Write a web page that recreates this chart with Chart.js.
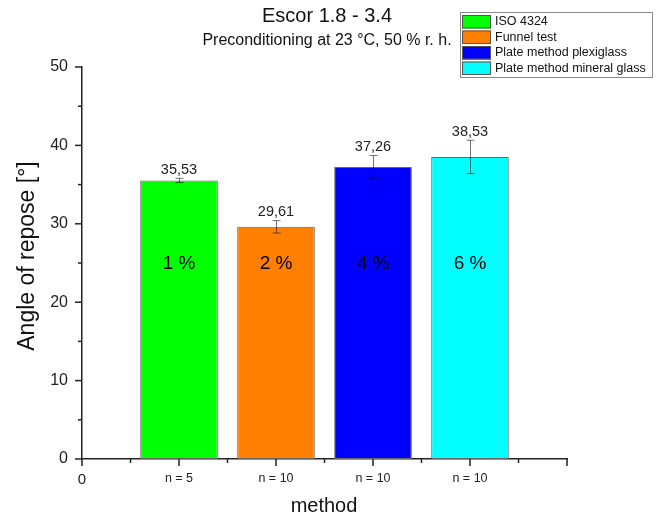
<!DOCTYPE html>
<html>
<head>
<meta charset="utf-8">
<title>Escor 1.8 - 3.4 angle of repose</title>
<script src="https://cdn.jsdelivr.net/npm/chart.js@4.4.0/dist/chart.umd.min.js"></script>
<style>
    html, body { margin: 0; padding: 0; background: #fff; }
    #wrap { width: 659px; height: 518px; position: relative; }
</style>
</head>
<body>
<div id="wrap"><canvas id="reposeChart"></canvas></div>
<script>
// Data
const methods = ['ISO 4324', 'Funnel test', 'Plate method plexiglass', 'Plate method mineral glass'];
const methodPositions = [1, 2, 3, 4];
const angles = [35.53, 29.61, 37.26, 38.53];
const errors = [0.27, 0.79, 1.45, 2.13];
const sampleSizes = ['n = 5', 'n = 10', 'n = 10', 'n = 10'];
const shares = ['1 %', '2 %', '4 %', '6 %'];
const barColors = ['#00ff00', '#ff8000', '#0000ff', '#00ffff'];
const yTicks = [0, 10, 20, 30, 40, 50];

const FONT = 'Arial, "Liberation Sans", sans-serif';
const AXIS_COLOR = '#222';

function formatValue(v) {
    return v.toFixed(2).replace('.', ',');
}

// titles, axis titles, minor/major ticks, error bars, labels and legend
const decorations = {
    id: 'decorations',
    afterDatasetsDraw(chart) {
        const ctx = chart.ctx;
        const x = chart.scales.x;
        const y = chart.scales.y;
        const area = chart.chartArea;

        ctx.save();

        // error bars
        ctx.strokeStyle = 'rgba(0,0,0,0.55)';
        ctx.lineWidth = 1;
        angles.forEach((v, i) => {
            const px = Math.round(x.getPixelForValue(methodPositions[i])) + 0.5;
            const top = y.getPixelForValue(v + errors[i]);
            const bot = y.getPixelForValue(v - errors[i]);
            ctx.beginPath();
            ctx.moveTo(px, top);
            ctx.lineTo(px, bot);
            ctx.moveTo(px - 4, top);
            ctx.lineTo(px + 4, top);
            ctx.moveTo(px - 4, bot);
            ctx.lineTo(px + 4, bot);
            ctx.stroke();
        });

        // value labels above error bars
        ctx.fillStyle = '#222';
        ctx.font = '14.5px ' + FONT;
        ctx.textAlign = 'center';
        ctx.textBaseline = 'bottom';
        angles.forEach((v, i) => {
            const px = x.getPixelForValue(methodPositions[i]);
            ctx.fillText(formatValue(v), px, y.getPixelForValue(v + errors[i]) - 1);
        });

        // share labels inside the bars
        ctx.fillStyle = '#000';
        ctx.font = '19px ' + FONT;
        ctx.textBaseline = 'middle';
        shares.forEach((s, i) => {
            ctx.fillText(s, x.getPixelForValue(methodPositions[i]), y.getPixelForValue(24.9));
        });

        // axis ticks (major outward 7px, minor 4px)
        ctx.strokeStyle = AXIS_COLOR;
        ctx.lineWidth = 1.5;
        y.ticks.forEach(t => {
            const py = y.getPixelForValue(t.value);
            const len = yTicks.includes(t.value) ? 7 : 4;
            ctx.beginPath();
            ctx.moveTo(area.left, py);
            ctx.lineTo(area.left - len, py);
            ctx.stroke();
        });
        x.ticks.forEach(t => {
            const px = x.getPixelForValue(t.value);
            const len = Number.isInteger(t.value) ? 7 : 4;
            ctx.beginPath();
            ctx.moveTo(px, area.bottom);
            ctx.lineTo(px, area.bottom + len);
            ctx.stroke();
        });

        // chart title and subtitle
        ctx.fillStyle = '#111';
        ctx.textAlign = 'center';
        ctx.textBaseline = 'middle';
        ctx.font = '20px ' + FONT;
        ctx.fillText('Escor 1.8 - 3.4', 327, 16);
        ctx.font = '16px ' + FONT;
        ctx.fillText('Preconditioning at 23 °C, 50 % r. h.', 327, 41);

        // axis titles
        ctx.font = '20px ' + FONT;
        ctx.fillText('method', 324, 506);
        ctx.save();
        ctx.translate(28, 256);
        ctx.rotate(-Math.PI / 2);
        ctx.font = '23px ' + FONT;
        ctx.fillText('Angle of repose [°]', 0, 0);
        ctx.restore();

        // legend box
        const lx = 460, ly = 12, lw = 192, rowH = 15.5;
        ctx.fillStyle = '#fff';
        ctx.fillRect(lx, ly, lw, rowH * methods.length + 3);
        ctx.strokeStyle = '#888';
        ctx.lineWidth = 1;
        ctx.strokeRect(lx + 0.5, ly + 0.5, lw, rowH * methods.length + 3);
        ctx.font = '12.5px ' + FONT;
        ctx.textAlign = 'left';
        methods.forEach((m, i) => {
            const ry = ly + 2 + i * rowH;
            ctx.fillStyle = barColors[i];
            ctx.fillRect(lx + 2, ry + 1, 29, 13.5);
            ctx.strokeStyle = '#555';
            ctx.strokeRect(lx + 2.5, ry + 1.5, 28, 12.5);
            ctx.fillStyle = '#111';
            ctx.fillText(m, lx + 35, ry + 8);
        });

        ctx.restore();
    }
};

function createReposeChart() {
    const ctx = document.getElementById('reposeChart').getContext('2d');

    new Chart(ctx, {
        type: 'bar',
        data: {
            datasets: [{
                label: 'Angle of repose',
                data: methodPositions.map((p, i) => ({ x: p, y: angles[i] })),
                backgroundColor: barColors,
                borderColor: '#666',
                borderWidth: 1,
                borderSkipped: false,
                // the ruler uses the 0.5 tick spacing, so 1.6 gives bars 0.8 units wide
                barPercentage: 1.6,
                categoryPercentage: 1.0
            }]
        },
        options: {
            responsive: true,
            maintainAspectRatio: false,
            animation: false,
            layout: {
                padding: { top: 67, right: 92, left: 0, bottom: 0 }
            },
            scales: {
                x: {
                    type: 'linear',
                    min: 0,
                    max: 5,
                    offset: false,
                    grid: { display: false, drawTicks: false },
                    border: { display: true, color: AXIS_COLOR, width: 1.5 },
                    ticks: {
                        stepSize: 0.5,
                        autoSkip: false,
                        maxRotation: 0,
                        padding: 12,
                        color: '#222',
                        font: function(context) {
                            return context.tick && context.tick.value === 0
                                ? { family: FONT, size: 15 }
                                : { family: FONT, size: 12.5 };
                        },
                        callback: function(value) {
                            if (value === 0) return '0';
                            if (Number.isInteger(value) && value <= sampleSizes.length) return sampleSizes[value - 1];
                            return '';
                        }
                    },
                    afterFit: function(scale) { scale.height = 59; }
                },
                y: {
                    min: 0,
                    max: 50,
                    grid: { display: false, drawTicks: false },
                    border: { display: true, color: AXIS_COLOR, width: 1.5 },
                    ticks: {
                        stepSize: 5,
                        padding: 14,
                        color: '#222',
                        font: { family: FONT, size: 16 },
                        callback: function(value) {
                            return yTicks.includes(value) ? String(value) : '';
                        }
                    },
                    afterFit: function(scale) { scale.width = 82; }
                }
            },
            plugins: {
                legend: { display: false },
                tooltip: { enabled: false }
            }
        },
        plugins: [decorations]
    });
}

document.addEventListener('DOMContentLoaded', function() {
    createReposeChart();
});
</script>
</body>
</html>
